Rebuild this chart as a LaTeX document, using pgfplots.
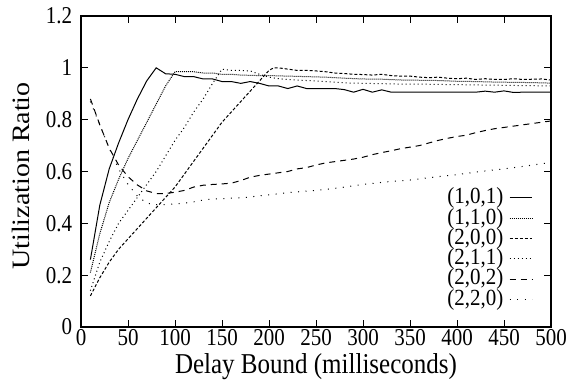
\documentclass[border=0pt]{standalone}
\usepackage{fontspec}
\setmainfont{Liberation Serif}
\usepackage{pgfplots}
\pgfplotsset{compat=1.18}

\begin{document}
\begin{tikzpicture}
\begin{axis}[
  name=ax,
  scale only axis,
  width=188pt, height=124.4pt,
  xmin=0, xmax=500, ymin=0, ymax=1.2,
  xtick={0,50,100,150,200,250,300,350,400,450,500},
  ytick={0,0.2,0.4,0.6,0.8,1,1.2},
  yticklabels={0,0.2,0.4,0.6,0.8,1,1.2},
  tick align=inside,
  major tick length=2.8pt,
  tick style={black, line width=0.4pt},
  axis line style={line width=0.5pt},
  ticklabel style={font=\fontsize{8.4}{9}\selectfont, yscale=1.15},
  xticklabel style={inner sep=0pt, yshift=-0.8pt},
  /pgf/number format/assume math mode=true,
  xlabel={Delay Bound (milliseconds)},
  ylabel={Utilization Ratio},
  label style={font=\fontsize{10}{12}\selectfont},
  xlabel style={at={(axis description cs:0.5,0)}, anchor=north, inner sep=0pt, yscale=1.15, yshift=-9.2pt},
  ylabel style={at={(axis description cs:0,0.5)}, anchor=south, inner sep=0pt, xscale=1.12, yshift=20.4pt, xshift=-1.6pt},
  legend style={draw=none, fill=none, at={(axis description cs:0.962,0.452)}, anchor=north east,
    font=\fontsize{8.4}{8.4}\selectfont, row sep=-0.6pt, column sep=2pt, inner sep=0pt,
    nodes={inner sep=0.3pt, yscale=1.1}},
  legend cell align=right,
  legend plot pos=right,
  legend image code/.code={\draw[#1] (0pt,0pt) -- (9pt,0pt);},
  every axis plot/.append style={line width=0.4pt, black},
]
% (1,0,1)
\addplot[solid] coordinates {
(10,0.26) (20,0.47) (30,0.61) (40,0.71) (50,0.80) (60,0.88) (70,0.95) (80,1.00)
(90,0.977) (100,0.975) (110,0.966) (120,0.966) (130,0.957) (140,0.957) (150,0.947)
(160,0.947) (170,0.940) (180,0.947) (190,0.940) (200,0.930) (210,0.930) (220,0.920)
(230,0.930) (240,0.920) (250,0.920) (260,0.920) (270,0.920) (280,0.916) (290,0.906)
(300,0.917) (310,0.906) (320,0.915) (330,0.906) (340,0.906) (350,0.906) (360,0.906)
(370,0.906) (380,0.906) (390,0.906) (400,0.906) (410,0.906) (420,0.906) (430,0.910)
(440,0.906) (450,0.911) (460,0.905) (470,0.906) (480,0.906) (490,0.906) (500,0.906)
};
\addlegendentry{(1,0,1)}
% (1,1,0)
\addplot[dash pattern=on 0.4pt off 0.4pt] coordinates {
(10,0.21) (20,0.36) (30,0.48) (40,0.57) (50,0.65) (60,0.72) (70,0.79) (80,0.86)
(90,0.93) (100,0.985) (110,0.985) (120,0.985) (130,0.980) (140,0.980) (150,0.975)
(160,0.975) (170,0.972) (180,0.971) (190,0.970) (200,0.970) (220,0.968) (240,0.966)
(260,0.964) (280,0.960) (300,0.957) (320,0.956) (340,0.953) (360,0.952) (380,0.951)
(400,0.948) (420,0.947) (440,0.945) (460,0.944) (480,0.943) (500,0.941)
};
\addlegendentry{(1,1,0)}
% (2,0,0)
\addplot[dash pattern=on 1.2pt off 0.8pt] coordinates {
(10,0.12) (20,0.19) (30,0.25) (40,0.30) (50,0.34) (60,0.38) (70,0.42) (80,0.46)
(90,0.50) (100,0.54) (110,0.59) (120,0.64) (130,0.69) (140,0.74) (150,0.79)
(160,0.83) (170,0.87) (180,0.91) (190,0.95) (200,0.99) (205,1.0) (210,1.0)
(220,0.995) (230,0.99) (240,0.99) (250,0.988) (260,0.985) (270,0.98) (280,0.978)
(290,0.975) (300,0.974) (310,0.972) (320,0.975) (330,0.970) (340,0.968) (350,0.968)
(360,0.964) (370,0.962) (380,0.964) (390,0.960) (400,0.958) (410,0.960) (420,0.955)
(430,0.958) (440,0.955) (450,0.955) (460,0.958) (470,0.955) (480,0.956) (490,0.957)
(500,0.953)
};
\addlegendentry{(2,0,0)}
% (2,1,1)
\addplot[dash pattern=on 0.4pt off 1.2pt] coordinates {
(10,0.14) (20,0.25) (30,0.33) (40,0.40) (50,0.45) (60,0.50) (70,0.55) (80,0.60)
(90,0.66) (100,0.72) (110,0.77) (120,0.83) (130,0.88) (140,0.94) (150,0.995)
(160,0.99) (170,0.99) (180,0.988) (190,0.975) (200,0.964) (210,0.958) (220,0.955)
(240,0.951) (260,0.947) (280,0.942) (300,0.940) (320,0.939) (340,0.937) (360,0.937)
(380,0.936) (400,0.935) (420,0.934) (440,0.933) (460,0.932) (480,0.931) (500,0.930)
};
\addlegendentry{(2,1,1)}
% (2,0,2)
\addplot[dash pattern=on 2.4pt off 2pt] coordinates {
(10,0.88) (20,0.78) (30,0.69) (40,0.625) (50,0.58) (60,0.548) (70,0.525) (80,0.515)
(90,0.515) (100,0.52) (110,0.527) (120,0.54) (130,0.547) (140,0.55) (150,0.552)
(160,0.555) (170,0.565) (180,0.578) (190,0.585) (200,0.59) (210,0.595) (220,0.60)
(230,0.61) (240,0.615) (250,0.625) (260,0.633) (270,0.638) (280,0.643) (290,0.648)
(300,0.655) (310,0.665) (320,0.673) (330,0.68) (340,0.688) (350,0.694) (360,0.70)
(370,0.71) (380,0.72) (390,0.728) (400,0.735) (410,0.74) (420,0.75) (430,0.758)
(440,0.765) (450,0.77) (460,0.775) (470,0.78) (480,0.785) (490,0.79) (500,0.795)
};
\addlegendentry{(2,0,2)}
% (2,2,0)
\addplot[dash pattern=on 0.4pt off 2.6pt] coordinates {
(10,0.87) (20,0.78) (30,0.69) (40,0.61) (50,0.55) (60,0.505) (70,0.478) (80,0.472)
(90,0.472) (100,0.475) (110,0.478) (120,0.483) (130,0.49) (140,0.494) (150,0.495)
(160,0.497) (175,0.50) (200,0.51) (225,0.52) (250,0.527) (275,0.537) (300,0.55)
(325,0.56) (350,0.567) (375,0.578) (400,0.588) (425,0.60) (450,0.61) (475,0.622)
(500,0.635)
};
\addlegendentry{(2,2,0)}
\end{axis}
\pgfresetboundingbox
\path ([shift={(-32.4pt,-23.2pt)}]ax.south west) rectangle ([shift={(11.6pt,6.4pt)}]ax.north east);
\end{tikzpicture}
\end{document}
